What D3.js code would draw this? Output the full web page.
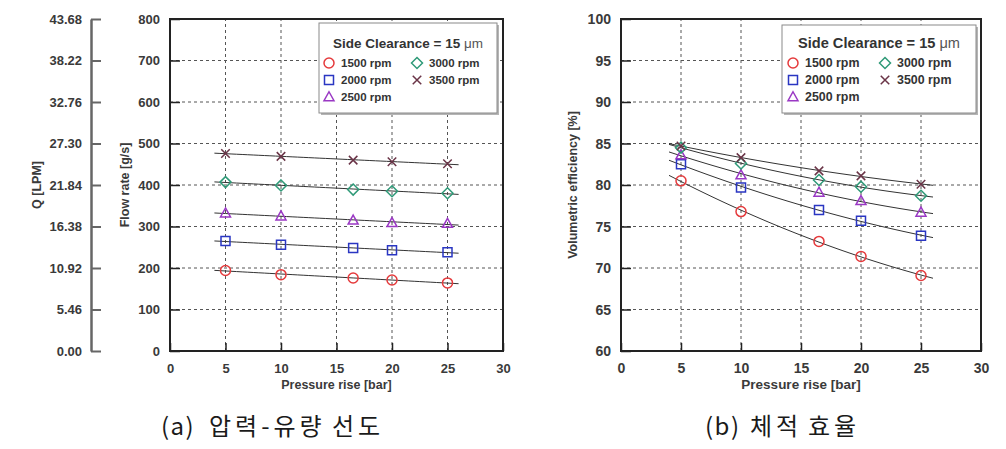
<!DOCTYPE html>
<html><head><meta charset="utf-8">
<script src="https://cdn.jsdelivr.net/npm/d3@7"></script>
<style>body{margin:0;background:#fff;} svg{display:block;}</style>
</head><body><svg id="c" width="1006" height="449"></svg>
<script>
// ---------- data ----------
const pressure = [5, 10, 16.5, 20, 25];
const seriesNames = ["1500 rpm", "2000 rpm", "2500 rpm", "3000 rpm", "3500 rpm"];
const flow1500 = [194, 184, 176, 171, 164];
const flow2000 = [265, 256, 248, 243, 238];
const flow2500 = [332, 325, 315, 309, 307];
const flow3000 = [407, 399, 389, 385, 380];
const flow3500 = [476, 469, 460, 456, 451];
const eff1500 = [80.5, 76.8, 73.2, 71.4, 69.1];
const eff2000 = [82.5, 79.7, 77.0, 75.7, 73.9];
const eff2500 = [83.6, 81.2, 79.1, 78.1, 76.7];
const eff3000 = [84.5, 82.6, 80.6, 79.8, 78.7];
const eff3500 = [84.7, 83.3, 81.7, 81.1, 80.1];
const xTicks = [0, 5, 10, 15, 20, 25, 30];
const flowTicks = [0, 100, 200, 300, 400, 500, 600, 700, 800];
const qTickLabels = ["0.00", "5.46", "10.92", "16.38", "21.84", "27.30", "32.76", "38.22", "43.68"];
const effTicks = [60, 65, 70, 75, 80, 85, 90, 95, 100];
const fitRange = [4, 26];
const legendTitle = "Side Clearance = 15 ";
const captionA = ["(a)", "압력-유량", "선도"];
const captionB = ["(b)", "체적", "효율"];

// ---------- styles ----------
const colors = ["#e53a3c", "#2a36c2", "#9a38c4", "#2f9a78", "#6a3447"];
const shapes = ["circle", "square", "triangle", "diamond", "x"];
const FONT = "'Liberation Sans', Arial, sans-serif";

const svg = d3.select("#c");

function shapePath(shape, r) {
  const p = d3.path();
  if (shape === "circle") { p.moveTo(r, 0); p.arc(0, 0, r, 0, 2 * Math.PI); }
  else if (shape === "square") { const s = r * 0.9; p.rect(-s, -s, 2 * s, 2 * s); }
  else if (shape === "triangle") { p.moveTo(0, -r * 1.05); p.lineTo(r * 1.0, r * 0.75); p.lineTo(-r * 1.0, r * 0.75); p.closePath(); }
  else if (shape === "diamond") { const s = r * 1.1; p.moveTo(0, -s); p.lineTo(s, 0); p.lineTo(0, s); p.lineTo(-s, 0); p.closePath(); }
  else { const s = r * 0.85; p.moveTo(-s, -s); p.lineTo(s, s); p.moveTo(s, -s); p.lineTo(-s, s); }
  return p.toString();
}

function polyfit(xs, ys, deg) {
  const n = deg + 1;
  const A = Array.from({length: n}, () => new Array(n + 1).fill(0));
  for (let k = 0; k < xs.length; k++) {
    for (let i = 0; i < n; i++) {
      for (let j = 0; j < n; j++) A[i][j] += Math.pow(xs[k], i + j);
      A[i][n] += ys[k] * Math.pow(xs[k], i);
    }
  }
  for (let i = 0; i < n; i++) {
    let m = i;
    for (let r = i + 1; r < n; r++) if (Math.abs(A[r][i]) > Math.abs(A[m][i])) m = r;
    [A[i], A[m]] = [A[m], A[i]];
    for (let r = 0; r < n; r++) {
      if (r === i) continue;
      const f = A[r][i] / A[i][i];
      for (let c = i; c <= n; c++) A[r][c] -= f * A[i][c];
    }
  }
  const coef = A.map((row, i) => row[n] / row[i]);
  return x => coef.reduce((s, c, i) => s + c * Math.pow(x, i), 0);
}

function panel(cfg) {
  const g = svg.append("g");
  const x = d3.scaleLinear().domain([0, 30]).range([cfg.x0, cfg.x1]);
  const y = d3.scaleLinear().domain(cfg.yDomain).range([351, 19]);
  const fs = cfg.fs;

  // grid
  g.append("g").selectAll("line").data(xTicks.filter(t => t > 0 && t < 30)).join("line")
    .attr("x1", d => x(d)).attr("x2", d => x(d)).attr("y1", y.range()[0]).attr("y2", y.range()[1])
    .attr("stroke", "#555").attr("stroke-width", 1).attr("stroke-dasharray", "3,3");
  g.append("g").selectAll("line").data(cfg.yTicks.slice(1, -1)).join("line")
    .attr("y1", d => y(d)).attr("y2", d => y(d)).attr("x1", cfg.x0).attr("x2", cfg.x1)
    .attr("stroke", "#555").attr("stroke-width", 1).attr("stroke-dasharray", "3,3");

  // axes
  const ax = g.append("g").attr("transform", `translate(0,351)`)
    .call(d3.axisBottom(x).tickValues(xTicks).tickSizeInner(-8).tickSizeOuter(0).tickPadding(12));
  const ay = g.append("g").attr("transform", `translate(${cfg.x0},0)`)
    .call(d3.axisLeft(y).tickValues(cfg.yTicks).tickSizeInner(-10).tickSizeOuter(0).tickPadding(10));
  [ax, ay].forEach(a => {
    a.select(".domain").remove();
    a.selectAll("line").attr("stroke", "#222").attr("stroke-width", 1.5);
    a.selectAll("text").attr("font-family", FONT).attr("font-weight", "bold")
      .attr("font-size", 13 * fs).attr("fill", "#3a3a3a");
  });
  ax.selectAll("text").attr("dy", "0.35em").attr("y", 17);

  // frame
  g.append("rect").attr("x", cfg.x0).attr("y", 19).attr("width", cfg.x1 - cfg.x0).attr("height", 332)
    .attr("fill", "none").attr("stroke", "#222").attr("stroke-width", 2);

  // axis titles
  g.append("text").attr("x", (cfg.x0 + cfg.x1) / 2).attr("y", 389)
    .attr("text-anchor", "middle").attr("font-family", FONT).attr("font-weight", "bold")
    .attr("font-size", 12.5 * fs).attr("fill", "#3a3a3a").text("Pressure rise [bar]");
  g.append("text").attr("transform", `translate(${cfg.yTitleX},185) rotate(-90)`)
    .attr("text-anchor", "middle").attr("font-family", FONT).attr("font-weight", "bold")
    .attr("font-size", 12.5).attr("fill", "#3a3a3a").text(cfg.yTitle);

  // fits
  const line = d3.line().x(d => x(d[0])).y(d => y(d[1]));
  cfg.series.forEach((vals, i) => {
    const f = polyfit(pressure, vals, cfg.deg);
    const pts = d3.range(fitRange[0], fitRange[1] + 0.001, 0.5).map(p => [p, f(p)]);
    g.append("path").attr("d", line(pts)).attr("fill", "none")
      .attr("stroke", "#333").attr("stroke-width", 1);
  });
  // markers
  cfg.series.forEach((vals, i) => {
    g.append("g").selectAll("path").data(vals).join("path")
      .attr("transform", (d, k) => `translate(${x(pressure[k])},${y(d)})`)
      .attr("d", shapePath(shapes[i], 5))
      .attr("fill", "none").attr("stroke", colors[i]).attr("stroke-width", 1.5);
  });

  // legend
  const L = cfg.legend;
  g.append("rect").attr("x", L.x + 2).attr("y", L.y + 2).attr("width", L.w).attr("height", L.h).attr("fill", "#b5b5b5");
  g.append("rect").attr("x", L.x).attr("y", L.y).attr("width", L.w).attr("height", L.h)
    .attr("fill", "#fff").attr("stroke", "#8a8a8a").attr("stroke-width", 1);
  const t = g.append("text").attr("x", L.x + L.w / 2).attr("y", 48).attr("text-anchor", "middle")
    .attr("font-family", FONT).attr("font-size", 13.5 * fs).attr("fill", "#333");
  t.append("tspan").attr("font-weight", "bold").text(legendTitle);
  t.append("tspan").attr("font-weight", "normal").attr("fill", "#555").text("μm");
  const pos = [[0, 0], [0, 1], [0, 2], [1, 0], [1, 1]];
  seriesNames.forEach((name, i) => {
    const [c, r] = pos[i];
    const sx = c === 0 ? L.c1 : L.c2;
    const sy = 63 + r * 17;
    g.append("path").attr("transform", `translate(${sx},${sy})`).attr("d", shapePath(shapes[i], 5))
      .attr("fill", "none").attr("stroke", colors[i]).attr("stroke-width", 1.5);
    g.append("text").attr("x", sx + L.tx).attr("y", sy).attr("dy", "0.35em")
      .attr("font-family", FONT).attr("font-weight", "bold").attr("font-size", 11.5 * fs)
      .attr("fill", "#333").text(name);
  });
  return {x, y, g};
}

// left panel
panel({
  x0: 170, x1: 503, yDomain: [0, 800], yTicks: flowTicks, fs: 1,
  yTitle: "Flow rate [g/s]", yTitleX: 129, deg: 1,
  series: [flow1500, flow2000, flow2500, flow3000, flow3500],
  legend: {x: 319, y: 23, w: 178, h: 90, c1: 329, c2: 417, tx: 12}
});

// secondary Q axis
const yQ = d3.scaleLinear().domain([0, 43.68]).range([351, 19]);
const qVals = qTickLabels.map(Number);
const qAx = svg.append("g").attr("transform", "translate(91,0)")
  .call(d3.axisRight(yQ).tickValues(qVals).tickSizeInner(10).tickSizeOuter(0).tickFormat((d, i) => qTickLabels[i]));
qAx.select(".domain").attr("stroke", "#666").attr("stroke-width", 2.5);
qAx.selectAll("line").attr("stroke", "#666").attr("stroke-width", 2);
qAx.selectAll("text").attr("x", -9).attr("text-anchor", "end").attr("font-family", FONT)
  .attr("font-weight", "bold").attr("font-size", 13).attr("fill", "#3a3a3a");
svg.append("text").attr("transform", "translate(41,185) rotate(-90)").attr("text-anchor", "middle")
  .attr("font-family", FONT).attr("font-weight", "bold").attr("font-size", 12.5).attr("fill", "#3a3a3a")
  .text("Q [LPM]");

// right panel
panel({
  x0: 621, x1: 981, yDomain: [60, 100], yTicks: effTicks, fs: 1.08,
  yTitle: "Volumetric efficiency [%]", yTitleX: 577, deg: 2,
  series: [eff1500, eff2000, eff2500, eff3000, eff3500],
  legend: {x: 782, y: 25, w: 194, h: 88, c1: 793, c2: 885, tx: 12}
});

// captions
function caption(words, xs) {
  const t = svg.append("text").attr("y", 435).attr("font-family", "'Noto Sans CJK KR', sans-serif")
    .attr("font-size", 24).attr("fill", "#1a1a1a");
  words.forEach((w, i) => t.append("tspan").attr("x", xs[i])
    .attr("letter-spacing", i === 0 ? 1.5 : 4).text(w));
}
caption(captionA, [161, 209, 332]);
caption(captionB, [705, 750, 808]);
</script></body></html>
